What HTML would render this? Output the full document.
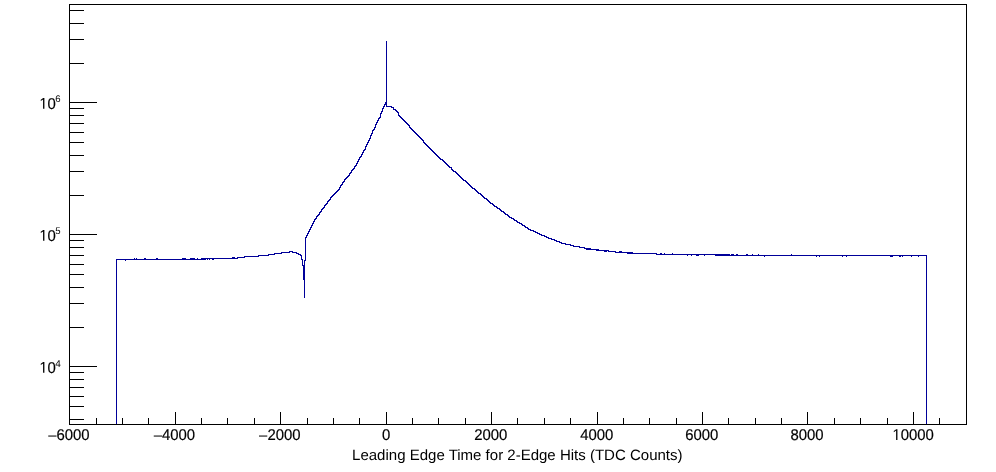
<!DOCTYPE html>
<html><head><meta charset="utf-8"><title>Leading Edge Time for 2-Edge Hits</title>
<style>
html,body{margin:0;padding:0;background:#fff;}
svg{display:block;will-change:transform;}
text{font-family:"Liberation Sans",sans-serif;fill:#000;text-rendering:geometricPrecision;}
.lab{font-size:14.9px;stroke:#000;stroke-width:0.2px;}
.ttl{font-size:15.03px;}
</style></head><body>
<svg width="996" height="472" viewBox="0 0 996 472">
<path d="M116.5,424.5V259.5H117.5H118.5H119.5H120.5H121.5H122.5H123.5H124.5H125.5H126.5H127.5H128.5H129.5H130.5H131.5H132.5H133.5H134.5H135.5H136.5H137.5H138.5H139.5H140.5H141.5H142.5H143.5H144.5H145.5H146.5H147.5H148.5H149.5H150.5H151.5H152.5H153.5H154.5H155.5H156.5H157.5H158.5H159.5H160.5H161.5H162.5H163.5H164.5H165.5H166.5H167.5H168.5H169.5H170.5H171.5H172.5H173.5H174.5H175.5H176.5H177.5H178.5H179.5H180.5H181.5H182.5H183.5H184.5H185.5H186.5H187.5H188.5H189.5H190.5H191.5H192.5H193.5H194.5H195.5H196.5H197.5H198.5H199.5H200.5H201.5V258.5H202.5H203.5H204.5H205.5H206.5H207.5H208.5H209.5H210.5H211.5H212.5H213.5H214.5H215.5H216.5H217.5H218.5H219.5H220.5H221.5H222.5H223.5H224.5H225.5H226.5H227.5H228.5H229.5H230.5H231.5H232.5H233.5H234.5H235.5H236.5H237.5V257.5H238.5H239.5H240.5H241.5H242.5H243.5H244.5V256.5H245.5H246.5H247.5H248.5H249.5H250.5H251.5H252.5H253.5H254.5H255.5H256.5H257.5H258.5V255.5H259.5H260.5H261.5H262.5H263.5H264.5H265.5H266.5H267.5H268.5V254.5H269.5H270.5H271.5H272.5H273.5H274.5V253.5H275.5H276.5H277.5H278.5H279.5H280.5H281.5V252.5H282.5H283.5H284.5H285.5H286.5H287.5H288.5H289.5V251.5H290.5H291.5H292.5V252.5H293.5H294.5H295.5H296.5V253.5H297.5H298.5V254.5H299.5H300.5V255.5H301.5V259.5H302.5V265.5H303.5V279.5H304.5V297.5V260.5H305.5V237.5H306.5V235.5H307.5V233.5H308.5V231.5H309.5V229.5H310.5V227.5H311.5V225.5H312.5V223.5H313.5V221.5H314.5V219.5H315.5V218.5H316.5V216.5H317.5V215.5H318.5V214.5H319.5V212.5H320.5V211.5H321.5V209.5H322.5V208.5H323.5V207.5H324.5V205.5H325.5V204.5H326.5V203.5H327.5V201.5H328.5V200.5H329.5V199.5H330.5V197.5H331.5V196.5H332.5V195.5H333.5V194.5H334.5V193.5H335.5V192.5H336.5V191.5H337.5V190.5H338.5V189.5H339.5V187.5H340.5V185.5H341.5V184.5H342.5V182.5H343.5V181.5H344.5V179.5H345.5V178.5H346.5V177.5H347.5V176.5H348.5V175.5H349.5V173.5H350.5V172.5H351.5V170.5H352.5V169.5H353.5V168.5H354.5V166.5H355.5V165.5H356.5V163.5H357.5V161.5H358.5V159.5H359.5V157.5H360.5V156.5H361.5V154.5H362.5V152.5H363.5V150.5H364.5V149.5H365.5V146.5H366.5V144.5H367.5V142.5H368.5V140.5H369.5V138.5H370.5V135.5H371.5V133.5H372.5V131.5V130.5H373.5V129.5H374.5V127.5H375.5V124.5H376.5V122.5H377.5V120.5H378.5V118.5H379.5V117.5H380.5V113.5H381.5V111.5H382.5V108.5H383.5V106.5H384.5V104.5H385.5V102.5H386.5V41.5V106.5H387.5H388.5H389.5H390.5H391.5V107.5H392.5H393.5V109.5H394.5H395.5V110.5H396.5V111.5H397.5V112.5H398.5V115.5H399.5V116.5H400.5V117.5H401.5V118.5H402.5V119.5H403.5V120.5H404.5V121.5H405.5V122.5H406.5V123.5H407.5V124.5H408.5V125.5H409.5V126.5V127.5H410.5V128.5H411.5V129.5H412.5V130.5H413.5V131.5H414.5V132.5H415.5V133.5H416.5V134.5H417.5V135.5H418.5V136.5H419.5V137.5H420.5V138.5H421.5V139.5H422.5V140.5H423.5V142.5H424.5V143.5H425.5V144.5H426.5V145.5H427.5V146.5H428.5V147.5H429.5V148.5H430.5V149.5H431.5V150.5H432.5V151.5H433.5V152.5H434.5V153.5H435.5V154.5H436.5V155.5H437.5V156.5H438.5V157.5H439.5V158.5H440.5V159.5H441.5H442.5V160.5H443.5V161.5H444.5V162.5H445.5V163.5H446.5V164.5H447.5V165.5H448.5V166.5H449.5V167.5H450.5H451.5V169.5H452.5V170.5H453.5V171.5H454.5H455.5V172.5H456.5V173.5H457.5V174.5H458.5V175.5H459.5V176.5H460.5V177.5H461.5V178.5H462.5V179.5H463.5V180.5H464.5H465.5V181.5H466.5V182.5H467.5V183.5H468.5V184.5H469.5V185.5H470.5V186.5H471.5V187.5H472.5V188.5H473.5H474.5V189.5H475.5V190.5H476.5V191.5H477.5V192.5H478.5V193.5H479.5H480.5V194.5H481.5V195.5H482.5V196.5H483.5V197.5H484.5V198.5H485.5H486.5V199.5H487.5V200.5H488.5V201.5H489.5V202.5H490.5V203.5H491.5H492.5V204.5H493.5V205.5H494.5V206.5H495.5H496.5V207.5H497.5V208.5H498.5H499.5V209.5H500.5V210.5H501.5V211.5H502.5H503.5V212.5H504.5V213.5H505.5V214.5H506.5H507.5V215.5H508.5V216.5H509.5V217.5H510.5H511.5V218.5H512.5H513.5V219.5H514.5V220.5H515.5H516.5V221.5H517.5V222.5H518.5H519.5V223.5H520.5H521.5V224.5H522.5V225.5H523.5H524.5V226.5H525.5V227.5H526.5H527.5V228.5H528.5V229.5H529.5H530.5V230.5H531.5H532.5H533.5V231.5H534.5H535.5V232.5H536.5H537.5V233.5H538.5H539.5V234.5H540.5H541.5V235.5H542.5H543.5H544.5V236.5H545.5H546.5V237.5H547.5H548.5V238.5H549.5H550.5H551.5V239.5H552.5H553.5H554.5V240.5H555.5H556.5V241.5H557.5H558.5H559.5V242.5H560.5H561.5V243.5H562.5H563.5H564.5H565.5V244.5H566.5H567.5H568.5H569.5H570.5V245.5H571.5H572.5H573.5V246.5H574.5H575.5H576.5H577.5H578.5H579.5V247.5H580.5H581.5H582.5H583.5H584.5V248.5H585.5H586.5H587.5H588.5H589.5H590.5V249.5H591.5H592.5H593.5H594.5H595.5H596.5H597.5H598.5V250.5H599.5H600.5H601.5H602.5H603.5H604.5H605.5H606.5H607.5H608.5V251.5H609.5H610.5H611.5H612.5H613.5H614.5H615.5V252.5H616.5H617.5H618.5H619.5H620.5H621.5H622.5H623.5H624.5H625.5H626.5H627.5H628.5H629.5H630.5H631.5H632.5V253.5H633.5H634.5H635.5H636.5H637.5H638.5H639.5H640.5H641.5H642.5H643.5H644.5H645.5H646.5H647.5H648.5H649.5H650.5H651.5H652.5H653.5H654.5H655.5H656.5V254.5H657.5H658.5H659.5H660.5H661.5H662.5H663.5H664.5H665.5H666.5H667.5H668.5H669.5H670.5H671.5H672.5H673.5H674.5H675.5H676.5H677.5H678.5H679.5H680.5H681.5H682.5H683.5H684.5H685.5H686.5H687.5H688.5H689.5H690.5H691.5H692.5H693.5H694.5H695.5H696.5H697.5H698.5H699.5H700.5H701.5H702.5H703.5H704.5H705.5H706.5H707.5H708.5H709.5H710.5H711.5H712.5H713.5H714.5H715.5V255.5H716.5H717.5H718.5H719.5H720.5H721.5H722.5H723.5H724.5H725.5H726.5H727.5H728.5H729.5H730.5H731.5H732.5H733.5H734.5H735.5H736.5H737.5H738.5H739.5H740.5H741.5H742.5H743.5H744.5H745.5H746.5H747.5H748.5H749.5H750.5H751.5H752.5H753.5H754.5H755.5H756.5H757.5H758.5H759.5H760.5H761.5H762.5H763.5H764.5H765.5H766.5H767.5H768.5H769.5H770.5H771.5H772.5H773.5H774.5H775.5H776.5H777.5H778.5H779.5H780.5H781.5H782.5H783.5H784.5H785.5H786.5H787.5H788.5H789.5H790.5H791.5H792.5H793.5H794.5H795.5H796.5H797.5H798.5H799.5H800.5H801.5H802.5H803.5H804.5H805.5H806.5H807.5H808.5H809.5H810.5H811.5H812.5H813.5H814.5H815.5H816.5H817.5H818.5H819.5H820.5H821.5H822.5H823.5H824.5H825.5H826.5H827.5H828.5H829.5H830.5H831.5H832.5H833.5H834.5H835.5H836.5H837.5H838.5H839.5H840.5H841.5H842.5H843.5H844.5H845.5H846.5H847.5H848.5H849.5H850.5H851.5H852.5H853.5H854.5H855.5H856.5H857.5H858.5H859.5H860.5H861.5H862.5H863.5H864.5H865.5H866.5H867.5H868.5H869.5H870.5H871.5H872.5H873.5H874.5H875.5H876.5H877.5H878.5H879.5H880.5H881.5H882.5H883.5H884.5H885.5H886.5H887.5H888.5H889.5H890.5H891.5H892.5H893.5H894.5H895.5H896.5H897.5H898.5H899.5H900.5H901.5H902.5H903.5H904.5H905.5H906.5H907.5H908.5H909.5H910.5H911.5H912.5H913.5H914.5H915.5H916.5H917.5H918.5H919.5H920.5H921.5H922.5H923.5H924.5H925.5H926.5V424.5" fill="none" stroke="#000099" stroke-width="1" stroke-linejoin="miter" shape-rendering="crispEdges"/>
<g fill="#000099" shape-rendering="crispEdges"><rect x="125" y="260" width="1" height="1"/><rect x="134" y="258" width="1" height="1"/><rect x="136" y="258" width="1" height="1"/><rect x="144" y="258" width="1" height="1"/><rect x="145" y="258" width="1" height="1"/><rect x="156" y="258" width="1" height="1"/><rect x="157" y="258" width="1" height="1"/><rect x="182" y="258" width="1" height="1"/><rect x="183" y="258" width="1" height="1"/><rect x="184" y="258" width="1" height="1"/><rect x="185" y="258" width="1" height="1"/><rect x="190" y="258" width="1" height="1"/><rect x="191" y="258" width="1" height="1"/><rect x="192" y="258" width="1" height="1"/><rect x="193" y="258" width="1" height="1"/><rect x="194" y="258" width="1" height="1"/><rect x="197" y="258" width="1" height="1"/><rect x="201" y="259" width="1" height="1"/><rect x="202" y="259" width="1" height="1"/><rect x="203" y="259" width="1" height="1"/><rect x="204" y="259" width="1" height="1"/><rect x="205" y="259" width="1" height="1"/><rect x="207" y="259" width="1" height="1"/><rect x="209" y="259" width="1" height="1"/><rect x="212" y="259" width="1" height="1"/><rect x="213" y="259" width="1" height="1"/><rect x="232" y="257" width="1" height="1"/><rect x="233" y="257" width="1" height="1"/><rect x="234" y="257" width="1" height="1"/><rect x="241" y="257" width="1" height="1"/><rect x="242" y="257" width="1" height="1"/><rect x="249" y="256" width="1" height="1"/><rect x="250" y="256" width="1" height="1"/><rect x="251" y="256" width="1" height="1"/><rect x="660" y="253" width="1" height="1"/><rect x="661" y="253" width="1" height="1"/><rect x="664" y="253" width="1" height="1"/><rect x="672" y="253" width="1" height="1"/><rect x="687" y="255" width="1" height="1"/><rect x="691" y="255" width="1" height="1"/><rect x="696" y="255" width="1" height="1"/><rect x="697" y="255" width="1" height="1"/><rect x="698" y="255" width="1" height="1"/><rect x="704" y="255" width="1" height="1"/><rect x="716" y="254" width="1" height="1"/><rect x="717" y="254" width="1" height="1"/><rect x="718" y="254" width="1" height="1"/><rect x="719" y="254" width="1" height="1"/><rect x="720" y="254" width="1" height="1"/><rect x="721" y="254" width="1" height="1"/><rect x="722" y="254" width="1" height="1"/><rect x="723" y="254" width="1" height="1"/><rect x="724" y="254" width="1" height="1"/><rect x="725" y="254" width="1" height="1"/><rect x="726" y="254" width="1" height="1"/><rect x="727" y="254" width="1" height="1"/><rect x="728" y="254" width="1" height="1"/><rect x="729" y="254" width="1" height="1"/><rect x="731" y="254" width="1" height="1"/><rect x="732" y="254" width="1" height="1"/><rect x="733" y="254" width="1" height="1"/><rect x="736" y="254" width="1" height="1"/><rect x="737" y="254" width="1" height="1"/><rect x="746" y="254" width="1" height="1"/><rect x="747" y="254" width="1" height="1"/><rect x="752" y="254" width="1" height="1"/><rect x="758" y="254" width="1" height="1"/><rect x="791" y="254" width="1" height="1"/><rect x="764" y="256" width="1" height="1"/><rect x="816" y="256" width="1" height="1"/><rect x="819" y="256" width="1" height="1"/><rect x="842" y="256" width="1" height="1"/><rect x="846" y="256" width="1" height="1"/><rect x="890" y="256" width="1" height="1"/><rect x="891" y="256" width="1" height="1"/><rect x="892" y="256" width="1" height="1"/><rect x="899" y="256" width="1" height="1"/><rect x="900" y="256" width="1" height="1"/><rect x="902" y="256" width="1" height="1"/><rect x="911" y="256" width="1" height="1"/><rect x="918" y="256" width="1" height="1"/><rect x="586" y="249" width="1" height="1"/><rect x="587" y="249" width="1" height="1"/><rect x="588" y="249" width="1" height="1"/><rect x="589" y="249" width="1" height="1"/><rect x="596" y="250" width="1" height="1"/><rect x="597" y="250" width="1" height="1"/><rect x="604" y="251" width="1" height="1"/><rect x="605" y="251" width="1" height="1"/><rect x="606" y="251" width="1" height="1"/><rect x="619" y="251" width="1" height="1"/><rect x="620" y="251" width="1" height="1"/><rect x="621" y="251" width="1" height="1"/><rect x="627" y="253" width="1" height="1"/><rect x="628" y="253" width="1" height="1"/><rect x="629" y="253" width="1" height="1"/><rect x="630" y="253" width="1" height="1"/><rect x="631" y="253" width="1" height="1"/><rect x="386" y="41" width="1" height="1"/></g>
<g shape-rendering="crispEdges">
<rect x="69.5" y="4.5" width="897.0" height="420.0" fill="none" stroke="#000" stroke-width="1"/>
<line x1="69.5" y1="424.5" x2="69.5" y2="412.0" stroke="#000"/>
<line x1="96.5" y1="424.5" x2="96.5" y2="418.0" stroke="#000"/>
<line x1="122.5" y1="424.5" x2="122.5" y2="418.0" stroke="#000"/>
<line x1="148.5" y1="424.5" x2="148.5" y2="418.0" stroke="#000"/>
<line x1="175.5" y1="424.5" x2="175.5" y2="412.0" stroke="#000"/>
<line x1="201.5" y1="424.5" x2="201.5" y2="418.0" stroke="#000"/>
<line x1="227.5" y1="424.5" x2="227.5" y2="418.0" stroke="#000"/>
<line x1="254.5" y1="424.5" x2="254.5" y2="418.0" stroke="#000"/>
<line x1="280.5" y1="424.5" x2="280.5" y2="412.0" stroke="#000"/>
<line x1="307.5" y1="424.5" x2="307.5" y2="418.0" stroke="#000"/>
<line x1="333.5" y1="424.5" x2="333.5" y2="418.0" stroke="#000"/>
<line x1="359.5" y1="424.5" x2="359.5" y2="418.0" stroke="#000"/>
<line x1="386.5" y1="424.5" x2="386.5" y2="412.0" stroke="#000"/>
<line x1="412.5" y1="424.5" x2="412.5" y2="418.0" stroke="#000"/>
<line x1="438.5" y1="424.5" x2="438.5" y2="418.0" stroke="#000"/>
<line x1="465.5" y1="424.5" x2="465.5" y2="418.0" stroke="#000"/>
<line x1="491.5" y1="424.5" x2="491.5" y2="412.0" stroke="#000"/>
<line x1="517.5" y1="424.5" x2="517.5" y2="418.0" stroke="#000"/>
<line x1="544.5" y1="424.5" x2="544.5" y2="418.0" stroke="#000"/>
<line x1="570.5" y1="424.5" x2="570.5" y2="418.0" stroke="#000"/>
<line x1="597.5" y1="424.5" x2="597.5" y2="412.0" stroke="#000"/>
<line x1="623.5" y1="424.5" x2="623.5" y2="418.0" stroke="#000"/>
<line x1="649.5" y1="424.5" x2="649.5" y2="418.0" stroke="#000"/>
<line x1="676.5" y1="424.5" x2="676.5" y2="418.0" stroke="#000"/>
<line x1="702.5" y1="424.5" x2="702.5" y2="412.0" stroke="#000"/>
<line x1="728.5" y1="424.5" x2="728.5" y2="418.0" stroke="#000"/>
<line x1="755.5" y1="424.5" x2="755.5" y2="418.0" stroke="#000"/>
<line x1="781.5" y1="424.5" x2="781.5" y2="418.0" stroke="#000"/>
<line x1="807.5" y1="424.5" x2="807.5" y2="412.0" stroke="#000"/>
<line x1="834.5" y1="424.5" x2="834.5" y2="418.0" stroke="#000"/>
<line x1="860.5" y1="424.5" x2="860.5" y2="418.0" stroke="#000"/>
<line x1="887.5" y1="424.5" x2="887.5" y2="418.0" stroke="#000"/>
<line x1="913.5" y1="424.5" x2="913.5" y2="412.0" stroke="#000"/>
<line x1="939.5" y1="424.5" x2="939.5" y2="418.0" stroke="#000"/>
<line x1="966.5" y1="424.5" x2="966.5" y2="418.0" stroke="#000"/>
<line x1="69.5" y1="419.5" x2="84.0" y2="419.5" stroke="#000"/>
<line x1="69.5" y1="406.5" x2="84.0" y2="406.5" stroke="#000"/>
<line x1="69.5" y1="396.5" x2="84.0" y2="396.5" stroke="#000"/>
<line x1="69.5" y1="387.5" x2="84.0" y2="387.5" stroke="#000"/>
<line x1="69.5" y1="379.5" x2="84.0" y2="379.5" stroke="#000"/>
<line x1="69.5" y1="372.5" x2="84.0" y2="372.5" stroke="#000"/>
<line x1="69.5" y1="366.5" x2="97.0" y2="366.5" stroke="#000"/>
<line x1="69.5" y1="327.5" x2="84.0" y2="327.5" stroke="#000"/>
<line x1="69.5" y1="303.5" x2="84.0" y2="303.5" stroke="#000"/>
<line x1="69.5" y1="287.5" x2="84.0" y2="287.5" stroke="#000"/>
<line x1="69.5" y1="274.5" x2="84.0" y2="274.5" stroke="#000"/>
<line x1="69.5" y1="264.5" x2="84.0" y2="264.5" stroke="#000"/>
<line x1="69.5" y1="255.5" x2="84.0" y2="255.5" stroke="#000"/>
<line x1="69.5" y1="247.5" x2="84.0" y2="247.5" stroke="#000"/>
<line x1="69.5" y1="240.5" x2="84.0" y2="240.5" stroke="#000"/>
<line x1="69.5" y1="234.5" x2="97.0" y2="234.5" stroke="#000"/>
<line x1="69.5" y1="195.5" x2="84.0" y2="195.5" stroke="#000"/>
<line x1="69.5" y1="171.5" x2="84.0" y2="171.5" stroke="#000"/>
<line x1="69.5" y1="155.5" x2="84.0" y2="155.5" stroke="#000"/>
<line x1="69.5" y1="142.5" x2="84.0" y2="142.5" stroke="#000"/>
<line x1="69.5" y1="132.5" x2="84.0" y2="132.5" stroke="#000"/>
<line x1="69.5" y1="123.5" x2="84.0" y2="123.5" stroke="#000"/>
<line x1="69.5" y1="115.5" x2="84.0" y2="115.5" stroke="#000"/>
<line x1="69.5" y1="108.5" x2="84.0" y2="108.5" stroke="#000"/>
<line x1="69.5" y1="102.5" x2="97.0" y2="102.5" stroke="#000"/>
<line x1="69.5" y1="63.5" x2="84.0" y2="63.5" stroke="#000"/>
<line x1="69.5" y1="39.5" x2="84.0" y2="39.5" stroke="#000"/>
<line x1="69.5" y1="23.5" x2="84.0" y2="23.5" stroke="#000"/>
<line x1="69.5" y1="10.5" x2="84.0" y2="10.5" stroke="#000"/>
</g>
<text transform="translate(68.9,440) scale(1,1.045)" text-anchor="middle" class="lab"><tspan stroke="none">–</tspan>6000</text>
<text transform="translate(174.4,440) scale(1,1.045)" text-anchor="middle" class="lab"><tspan stroke="none">–</tspan>4000</text>
<text transform="translate(279.8,440) scale(1,1.045)" text-anchor="middle" class="lab"><tspan stroke="none">–</tspan>2000</text>
<text transform="translate(386.2,440) scale(1,1.045)" text-anchor="middle" class="lab">0</text>
<text transform="translate(490.8,440) scale(1,1.045)" text-anchor="middle" class="lab">2000</text>
<text transform="translate(596.8,440) scale(1,1.045)" text-anchor="middle" class="lab">4000</text>
<text transform="translate(701.7,440) scale(1,1.045)" text-anchor="middle" class="lab">6000</text>
<text transform="translate(807.0,440) scale(1,1.045)" text-anchor="middle" class="lab">8000</text>
<path d="M515 0V1237L197 1010V1180L530 1409H696V0Z" transform="translate(892.37,440.00) scale(0.007275,-0.007603)" fill="#000"/>
<text transform="translate(900.66,440) scale(1,1.045)" class="lab">0000</text>
<path d="M515 0V1237L197 1010V1180L530 1409H696V0Z" transform="translate(39.33,108.80) scale(0.007275,-0.007603)" fill="#000"/>
<text transform="translate(55.9,108.8) scale(1,1.045)" text-anchor="end" class="lab">0</text><text x="55.2" y="102.3" style="font-size:9.6px">6</text>
<path d="M515 0V1237L197 1010V1180L530 1409H696V0Z" transform="translate(39.33,240.80) scale(0.007275,-0.007603)" fill="#000"/>
<text transform="translate(55.9,240.8) scale(1,1.045)" text-anchor="end" class="lab">0</text><text x="55.2" y="234.3" style="font-size:9.6px">5</text>
<path d="M515 0V1237L197 1010V1180L530 1409H696V0Z" transform="translate(39.33,372.80) scale(0.007275,-0.007603)" fill="#000"/>
<text transform="translate(55.9,372.8) scale(1,1.045)" text-anchor="end" class="lab">0</text><text x="55.2" y="367.2" style="font-size:10px">4</text>
<text x="517.3" y="460" text-anchor="middle" class="ttl">Leading Edge Time for 2-Edge Hits (TDC Counts)</text>
</svg>
</body></html>
